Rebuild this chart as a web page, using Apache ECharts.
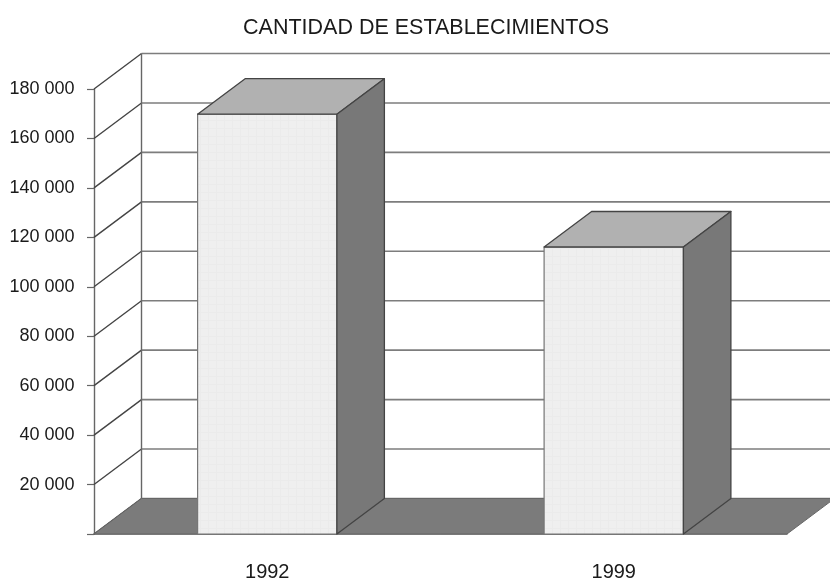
<!DOCTYPE html>
<html><head><meta charset="UTF-8">
<title>Cantidad de establecimientos</title>
<script src="https://cdn.jsdelivr.net/npm/echarts@6/dist/echarts.min.js"></script>
<style>html,body{margin:0;padding:0;background:#fff}</style>
</head>
<body>
<div id="g1" style="width:830px;height:582px;"></div>
<script type="text/javascript">
var titleText = 'CANTIDAD DE ESTABLECIMIENTOS';
var years = ['1992', '1999'];
var establishments = [169800, 116100];
var axisTicks = [0, 20000, 40000, 60000, 80000, 100000, 120000, 140000, 160000, 180000];

// depth of the fake 3d box, in pixels
var DX = 47.5, DY = 35.5;
var FONT = '"Liberation Sans", Arial, sans-serif';

function poly(points, fill, stroke, w) {
    return {type: 'polygon', shape: {points: points},
        style: {fill: fill, stroke: stroke, lineWidth: w, lineJoin: 'round'}};
}

// front face with the faint printed mesh
var mesh = document.createElement('canvas');
mesh.width = mesh.height = 8;
var c = mesh.getContext('2d');
c.fillStyle = '#efefef';
c.fillRect(0, 0, 8, 8);
c.fillStyle = '#ebebeb';
c.fillRect(0, 0, 8, 1);
c.fillRect(0, 0, 1, 8);

function renderWallLine(params, api) {
    var p = api.coord([0, api.value(1)]);
    var left = params.coordSys.x, right = left + params.coordSys.width;
    return {type: 'group', children: [
        {type: 'line', shape: {x1: left, y1: p[1], x2: left + DX, y2: p[1] - DY},
            style: {stroke: '#444', lineWidth: 1.4}},
        {type: 'line', shape: {x1: left + DX, y1: p[1] - DY, x2: right + DX, y2: p[1] - DY},
            style: {stroke: '#7d7d7d', lineWidth: 1.6}}
    ]};
}

function renderFloor(params) {
    var s = params.coordSys, b = s.y + s.height;
    return {type: 'group', children: [
        {type: 'line', shape: {x1: s.x + DX, y1: s.y - DY, x2: s.x + DX, y2: b - DY},
            style: {stroke: '#666', lineWidth: 1.4}},
        poly([[s.x, b], [s.x + DX, b - DY], [s.x + s.width + DX, b - DY], [s.x + s.width, b]], '#7b7b7b', '#666', 1)
    ]};
}

function renderBox(params, api) {
    var top = api.coord([api.value(0), api.value(1)]);
    var base = api.coord([api.value(0), 0]);
    var w = api.size([1, 0])[0] * 0.402;
    var l = top[0] - w / 2, r = top[0] + w / 2, t = top[1], b = base[1];
    return {type: 'group', children: [
        {type: 'rect', shape: {x: l, y: t, width: w, height: b - t},
            style: {fill: {image: mesh, repeat: 'repeat'}, stroke: '#777', lineWidth: 1.2}},
        poly([[l, t], [l + DX, t - DY], [r + DX, t - DY], [r, t]], '#b1b1b1', '#444', 1.3),
        poly([[r, t], [r + DX, t - DY], [r + DX, b - DY], [r, b]], '#787878', '#444', 1.3)
    ]};
}

var myChart = echarts.init(document.getElementById('g1'));
myChart.setOption({
    animation: false,
    title: {
        text: titleText, left: 421, top: 12, textAlign: 'center',
        textStyle: {fontFamily: FONT, fontSize: 21.5, fontWeight: 'normal', color: '#1a1a1a'}
    },
    grid: {left: 94, right: 43, top: 89, bottom: 48},
    xAxis: {
        type: 'category', data: years,
        axisLine: {lineStyle: {color: '#666', width: 1.5}},
        axisTick: {length: 7, lineStyle: {color: '#666', width: 1.2}},
        axisLabel: {margin: 28, fontFamily: FONT, fontSize: 20, color: '#1a1a1a'}
    },
    yAxis: {
        type: 'value', min: 0, max: 180000, interval: 20000,
        splitLine: {show: false},
        axisLine: {show: true, lineStyle: {color: '#666', width: 1.4}},
        axisTick: {show: true, length: 7, lineStyle: {color: '#666', width: 1.2}},
        axisLabel: {
            margin: 19.5, fontFamily: FONT, fontSize: 18, color: '#1a1a1a',
            padding: [5, 0, 0, 0],
            formatter: function (v) {
                return v === 0 ? '' : String(v).replace(/(\d)(?=(\d{3})+$)/g, '$1 ');
            }
        }
    },
    series: [
        {type: 'custom', name: 'walls', renderItem: renderWallLine, z: 1, silent: true,
            data: axisTicks.map(function (v) { return [0, v]; }), encode: {x: 0, y: 1}},
        {type: 'custom', name: 'floor', renderItem: renderFloor, data: [[0, 0]], encode: {x: 0, y: 1}, z: 2, silent: true},
        {type: 'custom', name: 'establecimientos', renderItem: renderBox, z: 3,
            data: years.map(function (y, i) { return [i, establishments[i]]; }), encode: {x: 0, y: 1}}
    ]
});
</script>
</body></html>
